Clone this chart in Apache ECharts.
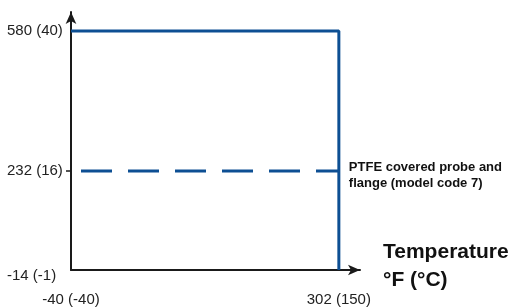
<!DOCTYPE html>
<html>
<head>
<meta charset="utf-8">
<script src="https://cdn.jsdelivr.net/npm/echarts@6/dist/echarts.min.js"></script>
<style>
  * { margin: 0; padding: 0; }
  html, body { background: #fff; }
  #main { width: 511px; height: 307px; }
</style>
</head>
<body>
<div id="main"></div>
<script>
// pressure (psig) vs temperature (°F) limits
var xTicks = [-40, 302];
var xTickLabels = ["-40 (-40)", "302 (150)"];
var yTicks = [-14, 232, 580];
var yTickLabels = { "-14": "-14 (-1)", "232": "232 (16)", "580": "580 (40)" };
var limitX = [-40, 302, 302];
var limitY = [580, 580, -14];
var ptfeX = [-40, 302];
var ptfeY = [232, 232];

var blue = "#0d4f93";
var font = "Liberation Sans, Arial, sans-serif";

function pairs(xs, ys) {
  return xs.map(function (x, i) { return [x, ys[i]]; });
}

var myChart = echarts.init(document.getElementById("main"));
var option = {
  animation: false,
  grid: { left: 71, right: 151, top: 12, bottom: 36 },
  xAxis: {
    type: "value",
    min: -40,
    max: 329,
    splitLine: { show: false },
    axisLine: {
      onZero: false,
      lineStyle: { color: "#1a1a1a", width: 2 },
      symbol: ["none", "arrow"],
      symbolSize: [8, 12]
    },
    axisTick: { show: false },
    axisLabel: {
      customValues: xTicks,
      margin: 22,
      fontFamily: font,
      fontSize: 15,
      color: "#222",
      formatter: function (v) { return xTickLabels[xTicks.indexOf(v)]; }
    }
  },
  yAxis: {
    type: "value",
    min: -14,
    max: 627,
    splitLine: { show: false },
    axisLine: {
      onZero: false,
      lineStyle: { color: "#1a1a1a", width: 2 },
      symbol: ["none", "arrow"],
      symbolSize: [8, 12]
    },
    axisTick: {
      customValues: [232],
      length: 5,
      lineStyle: { color: "#1a1a1a", width: 1.5 }
    },
    axisLabel: {
      customValues: yTicks,
      margin: 64,
      align: "left",
      fontFamily: font,
      fontSize: 15,
      color: "#222",
      formatter: function (v) {
        // lowest label sits a little below the axis
        return v === -14 ? "{low|" + yTickLabels[v] + "}" : yTickLabels[v];
      },
      rich: {
        low: { fontFamily: font, fontSize: 15, color: "#222", padding: [12, 0, 0, 0] }
      }
    }
  },
  series: [
    {
      type: "line",
      data: pairs(limitX, limitY),
      symbol: "none",
      lineStyle: { color: blue, width: 3 }
    },
    {
      type: "line",
      data: pairs(ptfeX, ptfeY),
      symbol: "none",
      lineStyle: { color: blue, width: 3, type: [31, 16], dashOffset: 37 },
      endLabel: {
        show: true,
        distance: 10,
        formatter: "PTFE covered probe and\nflange (model code 7)",
        fontFamily: font,
        fontWeight: "bold",
        fontSize: 13,
        lineHeight: 16,
        color: "#111",
        align: "left",
        verticalAlign: "top",
        offset: [0, -12]
      }
    }
  ],
  graphic: [
    {
      type: "text",
      left: 383,
      top: 238,
      style: {
        text: "Temperature\n°F (°C)",
        font: "bold 21px " + font,
        lineHeight: 28,
        fill: "#111"
      }
    }
  ]
};
window.onresize = myChart.resize;
myChart.setOption(option);
</script>
</body>
</html>
